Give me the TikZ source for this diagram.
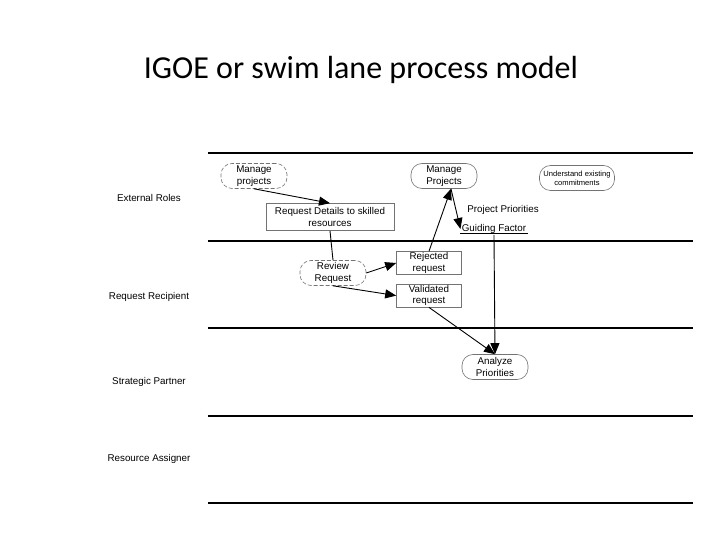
\documentclass[tikz,border=0pt]{standalone}
\usepackage{fontspec}
\setmainfont{Carlito}
\newfontfamily\diagfont{Liberation Sans}
\usepackage{tikz}
\usetikzlibrary{arrows.meta, positioning}

\begin{document}
\begin{tikzpicture}[
    x=0.5pt, y=-0.5pt,
    lane/.style={line width=1.4pt},
    lanelabel/.style={font=\diagfont\fontsize{4.9}{6}\selectfont, anchor=center},
    task/.style={rectangle, draw=black!55, line width=0.3pt, rounded corners=5.5pt,
                 minimum width=33pt, minimum height=12.5pt, inner sep=0.5pt,
                 align=center, font=\diagfont\fontsize{4.9}{5.8}\selectfont},
    taskdash/.style={task, dash pattern=on 2pt off 1pt},
    doc/.style={rectangle, draw=black!55, line width=0.3pt,
                minimum width=32.5pt, minimum height=11.5pt, inner sep=0.5pt,
                align=center, font=\diagfont\fontsize{4.9}{5.6}\selectfont},
    note/.style={inner sep=0.5pt, font=\diagfont\fontsize{4.9}{6}\selectfont},
    arrow/.style={-{Triangle[length=5.5pt, width=4.5pt]}, line width=0.45pt}
]
  \useasboundingbox (0,0) rectangle (720,540);

  % title
  \node[font=\fontsize{16}{19}\selectfont] (title) at (361,70)
    {IGOE or swim lane process model};

  % lanes
  \draw[lane] (208,153) -- (693,153);
  \draw[lane] (208,241) -- (693,241);
  \draw[lane] (208,328) -- (693,328);
  \draw[lane] (208,416) -- (693,416);
  \draw[lane] (208,503) -- (693,503);

  \node[lanelabel] (extroles) at (149,198) {External Roles};
  \node[lanelabel] (recipient) at (149,297) {Request Recipient};
  \node[lanelabel] (partner) at (149,382) {Strategic Partner};
  \node[lanelabel] (assigner) at (149,459) {Resource Assigner};

  % external roles lane
  \node[taskdash] (mproj) at (254,176) {Manage\\projects};
  \node[task] (mprojcap) at (444,176) {Manage\\Projects};
  \node[task, font=\diagfont\fontsize{3.8}{4.6}\selectfont, minimum width=37.5pt]
    (commit) at (577,178) {Understand existing\\commitments};
  \node[doc, minimum width=64pt, minimum height=13.5pt] (reqdet) at (330,217)
    {Request Details to skilled\\resources};
  \node[note] (prio) at (503,210) {Project Priorities};
  \node[note] (guide) at (494,229) {Guiding Factor};
  \draw[line width=0.4pt] ([yshift=-1pt]guide.base west) -- ([yshift=-1pt]guide.base east);

  % request recipient lane
  \node[taskdash] (review) at (333,273) {Review\\Request};
  \node[doc] (reject) at (429,263) {Rejected\\request};
  \node[doc, below=4.5pt of reject] (valid) {Validated\\request};

  % strategic partner lane
  \node[task] (analyze) at (495,367) {Analyze\\Priorities};

  \coordinate (mpfoot) at ([xshift=3.5pt]mprojcap.south);

  \draw[arrow] (mproj.south) -- (reqdet.north);
  \draw[line width=0.45pt] (reqdet.south) -- (review.north);
  \draw[arrow] (review.east) -- (reject.west);
  \draw[arrow] (review.south) -- (valid.west);
  \draw[arrow] (reject.north) -- (mpfoot);
  \draw[arrow] (mpfoot) -- (guide.west);
  \draw[arrow] (guide.south) -- (analyze.north);
  \draw[arrow] (valid.south) -- (analyze.north);
\end{tikzpicture}
\end{document}
